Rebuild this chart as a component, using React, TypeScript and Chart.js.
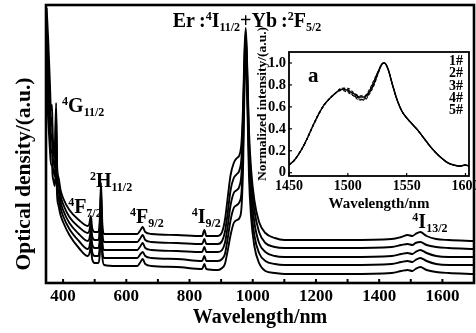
import React, { useEffect, useRef } from 'react';
import { Chart, registerables } from 'chart.js';

Chart.register(...registerables);

const FONT = '"Liberation Serif", "Times New Roman", serif';

// ---- main spectra (absorbance, arbitrary units) ----
const mainWavelengths = [
  348, 353, 358, 362, 365, 367, 370, 374, 378, 381,
  386, 392, 400, 420, 450, 478, 483, 488, 492, 500,
  512, 516, 520, 524, 530, 570, 635, 645, 652, 660,
  680, 760, 840, 847, 853, 890, 903, 912, 920, 930,
  940, 950, 958, 965, 970, 974, 978, 982, 988, 995,
  1005, 1020, 1040, 1070, 1100, 1300, 1440, 1470, 1490, 1505,
  1515, 1530, 1550, 1580, 1620, 1700,
];

const sample1 = [
  2.75, 2.43, 2.03, 1.73, 1.78, 1.48, 1.38, 1.33, 1.80, 1.18,
  1.05, 0.93, 0.85, 0.73, 0.63, 0.57, 0.59, 0.67, 0.55, 0.51,
  0.51, 0.63, 1.00, 0.61, 0.49, 0.49, 0.49, 0.53, 0.56, 0.51,
  0.49, 0.48, 0.47, 0.53, 0.47, 0.47, 0.51, 0.63, 0.83, 1.08,
  1.20, 1.25, 1.28, 1.43, 1.83, 2.33, 2.55, 2.23, 1.53, 1.13,
  0.83, 0.61, 0.50, 0.45, 0.43, 0.43, 0.44, 0.46, 0.48, 0.47,
  0.49, 0.51, 0.47, 0.44, 0.43, 0.42,
];
const sample2 = [
  2.58, 2.23, 1.85, 1.58, 1.65, 1.38, 1.30, 1.25, 1.71, 1.11,
  0.98, 0.87, 0.79, 0.66, 0.56, 0.50, 0.52, 0.60, 0.47, 0.43,
  0.43, 0.55, 0.91, 0.53, 0.41, 0.41, 0.41, 0.45, 0.48, 0.43,
  0.41, 0.40, 0.39, 0.44, 0.39, 0.39, 0.42, 0.51, 0.68, 0.93,
  1.05, 1.09, 1.13, 1.28, 1.73, 2.25, 2.50, 2.18, 1.43, 1.03,
  0.73, 0.51, 0.40, 0.36, 0.35, 0.35, 0.36, 0.38, 0.39, 0.38,
  0.40, 0.41, 0.38, 0.36, 0.35, 0.34,
];
const sample3 = [
  2.38, 2.03, 1.68, 1.43, 1.48, 1.28, 1.21, 1.16, 1.58, 1.03,
  0.91, 0.81, 0.73, 0.60, 0.49, 0.42, 0.44, 0.52, 0.39, 0.35,
  0.35, 0.45, 0.80, 0.43, 0.33, 0.33, 0.33, 0.37, 0.40, 0.35,
  0.33, 0.32, 0.31, 0.36, 0.31, 0.31, 0.33, 0.40, 0.55, 0.78,
  0.90, 0.93, 0.97, 1.13, 1.63, 2.17, 2.45, 2.11, 1.33, 0.91,
  0.61, 0.40, 0.31, 0.27, 0.26, 0.26, 0.27, 0.29, 0.30, 0.29,
  0.31, 0.33, 0.30, 0.27, 0.26, 0.26,
];
const sample4 = [
  2.18, 1.83, 1.53, 1.31, 1.33, 1.18, 1.12, 1.07, 1.43, 0.96,
  0.84, 0.75, 0.67, 0.54, 0.42, 0.34, 0.36, 0.44, 0.31, 0.27,
  0.27, 0.37, 0.68, 0.35, 0.25, 0.25, 0.25, 0.29, 0.31, 0.27,
  0.25, 0.24, 0.22, 0.27, 0.22, 0.22, 0.24, 0.29, 0.43, 0.63,
  0.75, 0.78, 0.81, 0.93, 1.43, 2.08, 2.39, 2.03, 1.23, 0.78,
  0.48, 0.30, 0.22, 0.19, 0.18, 0.18, 0.19, 0.21, 0.22, 0.21,
  0.23, 0.25, 0.22, 0.19, 0.18, 0.18,
];
const sample5 = [
  1.98, 1.63, 1.35, 1.18, 1.18, 1.07, 1.02, 0.97, 1.23, 0.88,
  0.77, 0.68, 0.61, 0.48, 0.35, 0.27, 0.29, 0.36, 0.24, 0.20,
  0.20, 0.28, 0.55, 0.27, 0.18, 0.17, 0.17, 0.21, 0.24, 0.19,
  0.17, 0.16, 0.14, 0.19, 0.14, 0.13, 0.15, 0.19, 0.31, 0.48,
  0.60, 0.63, 0.65, 0.78, 1.23, 1.98, 2.33, 1.93, 1.08, 0.65,
  0.37, 0.20, 0.12, 0.10, 0.09, 0.09, 0.10, 0.12, 0.13, 0.12,
  0.14, 0.16, 0.13, 0.11, 0.10, 0.09,
];
const sampleLabels = ['1#', '2#', '3#', '4#', '5#'];

// ---- inset: normalized emission ----
const insetWavelengths = [
  1450, 1455, 1460, 1465, 1470, 1475, 1480, 1485, 1490, 1495,
  1500, 1505, 1510, 1514, 1518, 1522, 1526, 1529, 1531, 1534,
  1538, 1542, 1546, 1550, 1555, 1560, 1565, 1570, 1575, 1580,
  1585, 1590, 1595, 1600, 1603,
];
const inset1 = [
  0.07, 0.12, 0.20, 0.30, 0.42, 0.53, 0.62, 0.68, 0.73, 0.76,
  0.75, 0.72, 0.69, 0.69, 0.73, 0.81, 0.92, 0.99, 1.00, 0.95,
  0.80, 0.66, 0.56, 0.50, 0.44, 0.38, 0.31, 0.24, 0.18, 0.13,
  0.09, 0.07, 0.06, 0.07, 0.06,
];
const inset2 = [
  0.07, 0.12, 0.20, 0.30, 0.42, 0.53, 0.62, 0.68, 0.73, 0.77,
  0.76, 0.71, 0.67, 0.67, 0.72, 0.80, 0.92, 0.99, 1.00, 0.95,
  0.80, 0.66, 0.56, 0.50, 0.44, 0.38, 0.31, 0.24, 0.18, 0.13,
  0.09, 0.07, 0.06, 0.07, 0.06,
];
const inset3 = [
  0.07, 0.12, 0.20, 0.30, 0.42, 0.53, 0.62, 0.68, 0.73, 0.76,
  0.74, 0.70, 0.66, 0.68, 0.74, 0.83, 0.93, 0.99, 1.00, 0.95,
  0.80, 0.66, 0.56, 0.50, 0.44, 0.38, 0.31, 0.24, 0.18, 0.13,
  0.09, 0.07, 0.06, 0.07, 0.06,
];
const inset4 = [
  0.07, 0.12, 0.20, 0.30, 0.42, 0.53, 0.62, 0.68, 0.73, 0.77,
  0.77, 0.73, 0.70, 0.70, 0.75, 0.84, 0.93, 0.99, 1.00, 0.95,
  0.80, 0.66, 0.56, 0.50, 0.44, 0.38, 0.31, 0.24, 0.18, 0.13,
  0.09, 0.07, 0.06, 0.07, 0.06,
];
const inset5 = [
  0.07, 0.12, 0.20, 0.30, 0.42, 0.53, 0.62, 0.68, 0.73, 0.75,
  0.73, 0.70, 0.68, 0.66, 0.71, 0.79, 0.91, 0.99, 1.00, 0.95,
  0.80, 0.66, 0.56, 0.50, 0.44, 0.38, 0.31, 0.24, 0.18, 0.13,
  0.09, 0.07, 0.06, 0.07, 0.06,
];

// ---- texts ----
const mainXTitle = 'Wavelength/nm';
const mainYTitle = 'Optical density/(a.u.)';
const insetXTitle = 'Wavelength/nm';
const insetYTitle = 'Normalized intensity/(a.u.)';
const insetTag = 'a';

type Kind = 'n' | 'sup' | 'sub';
type Seg = [string, Kind];
const annotationTexts: Seg[][] = [
  [['Er', 'n'], ['\u2009:', 'n'], ['4', 'sup'], ['I', 'n'], ['11/2', 'sub'], ['+Yb', 'n'], ['\u2009:', 'n'], ['2', 'sup'], ['F', 'n'], ['5/2', 'sub']],
  [['4', 'sup'], ['G', 'n'], ['11/2', 'sub']],
  [['2', 'sup'], ['H', 'n'], ['11/2', 'sub']],
  [['4', 'sup'], ['F', 'n'], ['7/2', 'sub']],
  [['4', 'sup'], ['F', 'n'], ['9/2', 'sub']],
  [['4', 'sup'], ['I', 'n'], ['9/2', 'sub']],
  [['4', 'sup'], ['I', 'n'], ['13/2', 'sub']],
];
const annotationWavelengths = [747, 397, 485, 416, 612, 807, 1505];
const annotationValues = [2.56, 1.71, 0.96, 0.70, 0.60, 0.60, 0.55];

function drawRich(ctx: CanvasRenderingContext2D, segs: Seg[], x: number, y: number, size: number) {
  let cx = x;
  for (const [t, k] of segs) {
    const fs = k === 'n' ? size : Math.round(size * 0.6);
    ctx.font = `bold ${fs}px ${FONT}`;
    const dy = k === 'sup' ? -size * 0.36 : k === 'sub' ? size * 0.18 : 0;
    ctx.fillText(t, cx, y + dy);
    cx += ctx.measureText(t).width;
  }
}

const mainDecor = {
  id: 'mainDecor',
  afterDatasetsDraw(chart: any) {
    const { ctx, chartArea: a, scales } = chart;
    const x = scales.x;
    const y = scales.y;
    ctx.save();
    ctx.strokeStyle = '#000';
    ctx.lineWidth = 2.6;
    ctx.strokeRect(a.left, a.top, a.right - a.left, a.bottom - a.top);
    ctx.lineWidth = 2;
    x.ticks.forEach((t: any) => {
      const px = x.getPixelForValue(t.value);
      if (px <= a.left + 2 || px >= a.right - 2) return;
      ctx.beginPath();
      ctx.moveTo(px, a.bottom);
      ctx.lineTo(px, a.bottom - 4);
      ctx.stroke();
    });
    ctx.fillStyle = '#000';
    ctx.textAlign = 'left';
    ctx.textBaseline = 'alphabetic';
    annotationTexts.forEach((segs, i) => {
      drawRich(ctx, segs, x.getPixelForValue(annotationWavelengths[i]), y.getPixelForValue(annotationValues[i]), 20);
    });
    ctx.translate(24, 174);
    ctx.rotate(-Math.PI / 2);
    ctx.font = `bold 21.5px ${FONT}`;
    ctx.textAlign = 'center';
    ctx.textBaseline = 'middle';
    ctx.fillText(mainYTitle, 0, 0);
    ctx.restore();
  },
};

const insetDecor = {
  id: 'insetDecor',
  beforeDatasetsDraw(chart: any) {
    const { ctx, chartArea: a } = chart;
    ctx.save();
    ctx.fillStyle = '#fff';
    ctx.fillRect(a.left, a.top, a.right - a.left, a.bottom - a.top);
    ctx.restore();
  },
  afterDatasetsDraw(chart: any) {
    const { ctx, chartArea: a, scales } = chart;
    const x = scales.x;
    const y = scales.y;
    ctx.save();
    ctx.strokeStyle = '#000';
    ctx.lineWidth = 1.8;
    ctx.strokeRect(a.left, a.top, a.right - a.left, a.bottom - a.top);
    ctx.lineWidth = 1.2;
    x.ticks.forEach((t: any) => {
      const px = x.getPixelForValue(t.value);
      ctx.beginPath();
      ctx.moveTo(px, a.bottom);
      ctx.lineTo(px, a.bottom - 3);
      ctx.stroke();
    });
    y.ticks.forEach((t: any) => {
      const py = y.getPixelForValue(t.value);
      ctx.beginPath();
      ctx.moveTo(a.left, py);
      ctx.lineTo(a.left + 3, py);
      ctx.stroke();
    });
    ctx.fillStyle = '#000';
    ctx.font = `bold 21px ${FONT}`;
    ctx.textAlign = 'left';
    ctx.textBaseline = 'alphabetic';
    ctx.fillText(insetTag, a.left + 19, a.top + 30);
    ctx.font = `bold 14px ${FONT}`;
    ctx.textAlign = 'right';
    sampleLabels.forEach((lab, i) => {
      ctx.fillText(lab, a.right - 6, a.top + 13 + i * 12.3);
    });
    ctx.translate(263, 104);
    ctx.rotate(-Math.PI / 2);
    ctx.font = `bold 13.5px ${FONT}`;
    ctx.textAlign = 'center';
    ctx.textBaseline = 'middle';
    ctx.fillText(insetYTitle, 0, 0);
    ctx.restore();
  },
};

export default function App() {
  const mainRef = useRef<HTMLCanvasElement>(null);
  const insetRef = useRef<HTMLCanvasElement>(null);

  useEffect(() => {
    const series = [sample1, sample2, sample3, sample4, sample5];
    const main = new Chart(mainRef.current as HTMLCanvasElement, {
      type: 'line',
      data: {
        datasets: series.map((s, i) => ({
          label: sampleLabels[i],
          data: s.map((v, j) => ({ x: mainWavelengths[j], y: v })),
          borderColor: '#000',
          borderWidth: 1.9,
          pointRadius: 0,
          fill: false,
          tension: 0.3,
          cubicInterpolationMode: 'monotone' as const,
        })),
      },
      options: {
        responsive: false,
        animation: false,
        layout: { padding: { left: 46, right: 2, top: 5, bottom: 0 } },
        plugins: { legend: { display: false }, tooltip: { enabled: false } },
        scales: {
          x: {
            type: 'linear',
            min: 346,
            max: 1700,
            grid: { display: false, drawTicks: false },
            border: { display: false },
            ticks: {
              stepSize: 100,
              autoSkip: false,
              maxRotation: 0,
              includeBounds: false,
              padding: 3,
              color: '#000',
              font: { family: FONT, size: 17, weight: 'bold' },
              callback: (v: any) => (Number(v) % 200 === 0 ? String(v) : ''),
            },
            title: {
              display: true,
              text: mainXTitle,
              color: '#000',
              font: { family: FONT, size: 20, weight: 'bold' },
              padding: { top: 0, bottom: 3 },
            },
            afterFit: (s: any) => {
              s.height = 50;
              s.paddingLeft = 0;
              s.paddingRight = 0;
            },
          },
          y: { display: false, min: 0, max: 2.78 },
        },
      },
      plugins: [mainDecor],
    });

    const insetSeries = [inset1, inset2, inset3, inset4, inset5];
    const inset = new Chart(insetRef.current as HTMLCanvasElement, {
      type: 'line',
      data: {
        datasets: insetSeries.map((s, i) => ({
          label: sampleLabels[i],
          data: s.map((v, j) => ({ x: insetWavelengths[j], y: v })),
          borderColor: '#000',
          borderWidth: i === 0 ? 1.5 : 1.1,
          borderDash: i === 0 ? [] : [3, 2],
          pointRadius: 0,
          fill: false,
          tension: 0.3,
          cubicInterpolationMode: 'monotone' as const,
        })),
      },
      options: {
        responsive: false,
        animation: false,
        layout: { padding: { left: 250, right: 7, top: 52, bottom: 117 } },
        plugins: { legend: { display: false }, tooltip: { enabled: false } },
        scales: {
          x: {
            type: 'linear',
            min: 1450,
            max: 1603,
            grid: { display: false, drawTicks: false },
            border: { display: false },
            ticks: {
              stepSize: 50,
              autoSkip: false,
              maxRotation: 0,
              includeBounds: false,
              padding: 2,
              color: '#000',
              font: { family: FONT, size: 14, weight: 'bold' },
              callback: (v: any) => String(v),
            },
            title: {
              display: true,
              text: insetXTitle,
              color: '#000',
              font: { family: FONT, size: 15, weight: 'bold' },
              padding: { top: 0, bottom: 3 },
            },
            afterFit: (s: any) => {
              s.height = 40;
              s.paddingLeft = 0;
              s.paddingRight = 0;
            },
          },
          y: {
            type: 'linear',
            min: -0.03,
            max: 1.1,
            grid: { display: false, drawTicks: false },
            border: { display: false },
            ticks: {
              stepSize: 0.2,
              includeBounds: false,
              padding: 3,
              color: '#000',
              font: { family: FONT, size: 14.5, weight: 'bold' },
              callback: (v: any) => (Math.abs(Number(v)) < 1e-9 ? '0' : Number(v).toFixed(1)),
            },
            afterFit: (s: any) => {
              s.width = 39;
              s.paddingTop = 0;
              s.paddingBottom = 0;
            },
          },
        },
      },
      plugins: [insetDecor],
    });

    return () => {
      main.destroy();
      inset.destroy();
    };
  }, []);

  return (
    <div style={{ position: 'fixed', left: 0, top: 0, width: 476, height: 333, background: '#fff' }}>
      <canvas ref={mainRef} width={476} height={333} style={{ position: 'absolute', left: 0, top: 0 }} />
      <canvas ref={insetRef} width={476} height={333} style={{ position: 'absolute', left: 0, top: 0 }} />
    </div>
  );
}
